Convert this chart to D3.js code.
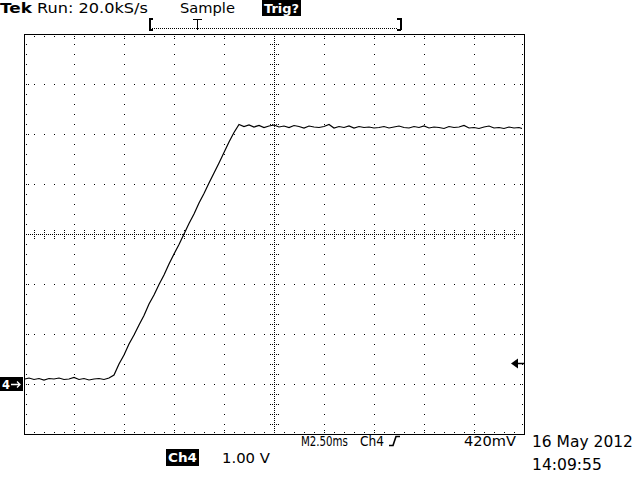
<!DOCTYPE html>
<html><head><meta charset="utf-8">
<script src="https://cdn.jsdelivr.net/npm/d3@7"></script>
<style>html,body{margin:0;padding:0;background:#fff;}svg{display:block;}</style>
</head><body>
<svg id="c" width="640" height="480"></svg>
<script>
// ---- data (Ch4 trace: time in ms from left edge, volts relative to ground) ----
const timeMs = [0.05,0.25,0.5,0.75,1,1.25,1.5,1.75,2,2.25,2.5,2.75,3,3.25,3.5,3.75,4,4.25,
 4.5,4.75,5,5.25,5.5,5.75,6,6.25,6.5,6.75,7,7.25,7.5,7.75,8,8.25,8.5,8.75,9,9.25,9.5,9.75,10,10.25,10.5,
 10.75,11,11.25,11.5,11.75,12,12.25,12.5,12.75,13,13.25,13.5,13.75,14,14.25,14.5,14.75,15,15.25,15.5,15.75,
 16,16.25,16.5,16.75,17,17.25,17.5,17.75,18,18.25,18.5,18.75,19,19.25,19.5,19.75,20,20.25,20.5,20.75,
 21,21.25,21.5,21.75,22,22.25,22.5,22.75,23,23.25,23.5,23.75,24,24.25,24.5,24.75,24.9];
const volts = [0.10,0.12,0.09,0.11,0.08,0.11,0.10,0.12,0.09,0.10,0.13,0.09,0.11,0.08,0.10,0.11,0.09,0.12,
 0.18,0.40,0.58,0.80,0.98,1.18,1.37,1.60,1.78,1.99,2.18,2.40,2.60,2.79,3.00,3.21,3.40,3.62,3.81,4.02,4.22,4.42,4.63,4.84,5.03,
 5.19,5.15,5.18,5.14,5.17,5.13,5.16,5.18,5.14,5.16,5.13,5.17,5.15,5.12,5.16,5.14,5.13,5.15,5.19,5.12,5.15,
 5.13,5.16,5.12,5.15,5.13,5.14,5.12,5.13,5.15,5.12,5.14,5.16,5.13,5.12,5.15,5.13,5.16,5.12,5.14,5.13,
 5.11,5.15,5.13,5.14,5.17,5.12,5.13,5.11,5.14,5.16,5.12,5.13,5.11,5.14,5.12,5.13,5.11];
const timeDomain = [0, 25];      // 10 div x 2.50 ms
const voltDomain = [-1, 7];      // 8 div x 1.00 V, ground 1 div above bottom
const timePerDiv = 2.5, voltPerDiv = 1.0;
const triggerLevelV = 0.42;
const headerTexts = ["Tek", "Run: 20.0kS/s", "Sample", "Trig?"];
const footerTexts = ["M2.50ms", "Ch4", "420mV", "Ch4", "1.00 V", "16 May 2012", "14:09:55"];

// ---- drawing ----
const svg = d3.select("#c");
svg.append("rect").attr("width",640).attr("height",480).attr("fill","#fff");
const x = d3.scaleLinear().domain(timeDomain).range([24,524]);
const y = d3.scaleLinear().domain(voltDomain).range([434,34]);
const FONT = "'DejaVu Sans', sans-serif";
const g = svg.append("g").attr("shape-rendering","crispEdges");
function dot(px,py){ g.append("rect").attr("x",Math.round(px)).attr("y",Math.round(py)).attr("width",1).attr("height",1).attr("fill","#000"); }

const xMajor = d3.range(timeDomain[0], timeDomain[1]+1e-9, timePerDiv);
const yMajor = d3.range(voltDomain[0], voltDomain[1]+1e-9, voltPerDiv);
const xMinor = d3.range(timeDomain[0], timeDomain[1]+1e-9, timePerDiv/5);
const yMinor = d3.range(voltDomain[0], voltDomain[1]+1e-9, voltPerDiv/5);
const xC = x(12.5), yC = y(3);
const X0=x(timeDomain[0]), X1=x(timeDomain[1]), Y0=y(voltDomain[1]), Y1=y(voltDomain[0]);

// dotted major lines
xMajor.slice(1,-1).forEach(t=>{ if (Math.abs(x(t)-xC)<1) return; yMinor.slice(1,-1).forEach(v=>dot(x(t), y(v))); });
yMajor.slice(1,-1).forEach(v=>{ if (Math.abs(y(v)-yC)<1) return; xMinor.slice(1,-1).forEach(t=>dot(x(t), y(v))); });
// center cross: dense dots + minor ticks
for (let px=X0+2; px<X1; px+=2) dot(px, yC);
for (let py=Y0+2; py<Y1; py+=2) dot(xC, py);
xMinor.slice(1,-1).forEach(t=>{ [-4,-2,2,4].forEach(o=>dot(x(t), yC+o)); });
yMinor.slice(1,-1).forEach(v=>{ [-4,-2,2,4].forEach(o=>dot(xC+o, y(v))); });
// border ticks
xMinor.slice(1,-1).forEach((t,i)=>{ const maj=((i+1)%5===0); dot(x(t),Y0+2); dot(x(t),Y1-2); if(maj){dot(x(t),Y0+4);dot(x(t),Y1-4);} });
yMinor.slice(1,-1).forEach((v,i)=>{ const maj=((i+1)%5===0); dot(X0+2,y(v)); dot(X1-2,y(v)); if(maj){dot(X0+4,y(v));dot(X1-4,y(v));} });
// border
g.append("rect").attr("x",X0+0.5).attr("y",Y0+0.5).attr("width",X1-X0).attr("height",Y1-Y0)
 .attr("fill","none").attr("stroke","#000").attr("stroke-width",1);

// trace
const data = timeMs.map((t,i)=>({t, v: volts[i]}));
svg.append("path").datum(data)
 .attr("d", d3.line().x(d=>x(d.t)).y(d=>y(d.v)))
 .attr("fill","none").attr("stroke","#000").attr("stroke-width",1.2);

// text helper: natural glyphs, horizontally scaled to the target width
function txt(s, x0, yb, w, opts={}) {
  const t = svg.append("text").attr("x",0).attr("y",0)
    .attr("font-family",FONT).attr("font-size",opts.size||14)
    .attr("font-weight",opts.bold?"bold":"normal")
    .attr("fill",opts.fill||"#000").text(s);
  const nat = t.node().getComputedTextLength() || w;
  t.attr("transform",`translate(${x0},${yb}) scale(${w/nat},1)`);
  return t;
}

// ground marker "4→"
const gy = y(0);
svg.append("rect").attr("x",0).attr("y",gy-7).attr("width",23).attr("height",14).attr("fill","#000");
txt("4", 2, gy+5, 8, {size:13, bold:true, fill:"#fff"});
svg.append("path").attr("d",`M11,${gy+0.5}H20 M17,${gy-2.5}L20,${gy+0.5}L17,${gy+3.5}`).attr("stroke","#fff").attr("stroke-width",1.3).attr("fill","none");

// trigger level arrow at right
const ty = Math.round(y(triggerLevelV));
svg.append("path").attr("d",`M511,${ty+0.5}L518,${ty-4.5}L518,${ty+5.5}Z`).attr("fill","#000");
svg.append("line").attr("x1",517).attr("x2",524).attr("y1",ty+0.5).attr("y2",ty+0.5).attr("stroke","#000").attr("stroke-width",1.5);

// header
txt(headerTexts[0], 0, 12.5, 32, {size:13.5, bold:true});
txt(headerTexts[1], 37, 12.5, 111, {size:13.5});
txt(headerTexts[2], 180, 12.5, 55, {size:13.5});
svg.append("rect").attr("x",262).attr("y",0).attr("width",39).attr("height",16).attr("fill","#000");
txt(headerTexts[3], 264, 12.5, 35, {size:13, bold:true, fill:"#fff"});
// record bracket
const hb = svg.append("g").attr("shape-rendering","crispEdges");
hb.append("path").attr("d","M149.5,18V30 M149,18.5H153 M149,29.5H153").attr("stroke","#000").attr("stroke-width",2);
hb.append("path").attr("d","M400.5,18V30 M397,18.5H401 M397,29.5H401").attr("stroke","#000").attr("stroke-width",2);
for (let px=152; px<398; px+=2) hb.append("rect").attr("x",px).attr("y",28).attr("width",1).attr("height",1).attr("fill","#000");
hb.append("path").attr("d","M193,19.5H202 M197.5,19V30").attr("stroke","#000").attr("stroke-width",1.5);

// footer
txt(footerTexts[0], 301, 446, 47, {size:14});
txt(footerTexts[1], 360, 446, 24, {size:14});
svg.append("path").attr("d","M389,445.5H393L396,436.5H400").attr("stroke","#000").attr("stroke-width",1.6).attr("fill","none");
txt(footerTexts[2], 464, 446, 52, {size:14});
svg.append("rect").attr("x",166).attr("y",449).attr("width",33).attr("height",17).attr("fill","#000");
txt(footerTexts[3], 168, 462, 29, {size:13, bold:true, fill:"#fff"});
txt(footerTexts[4], 222, 463, 48, {size:14});
txt(footerTexts[5], 532, 447, 101, {size:15});
txt(footerTexts[6], 532, 470, 70, {size:15});
</script>
</body></html>
